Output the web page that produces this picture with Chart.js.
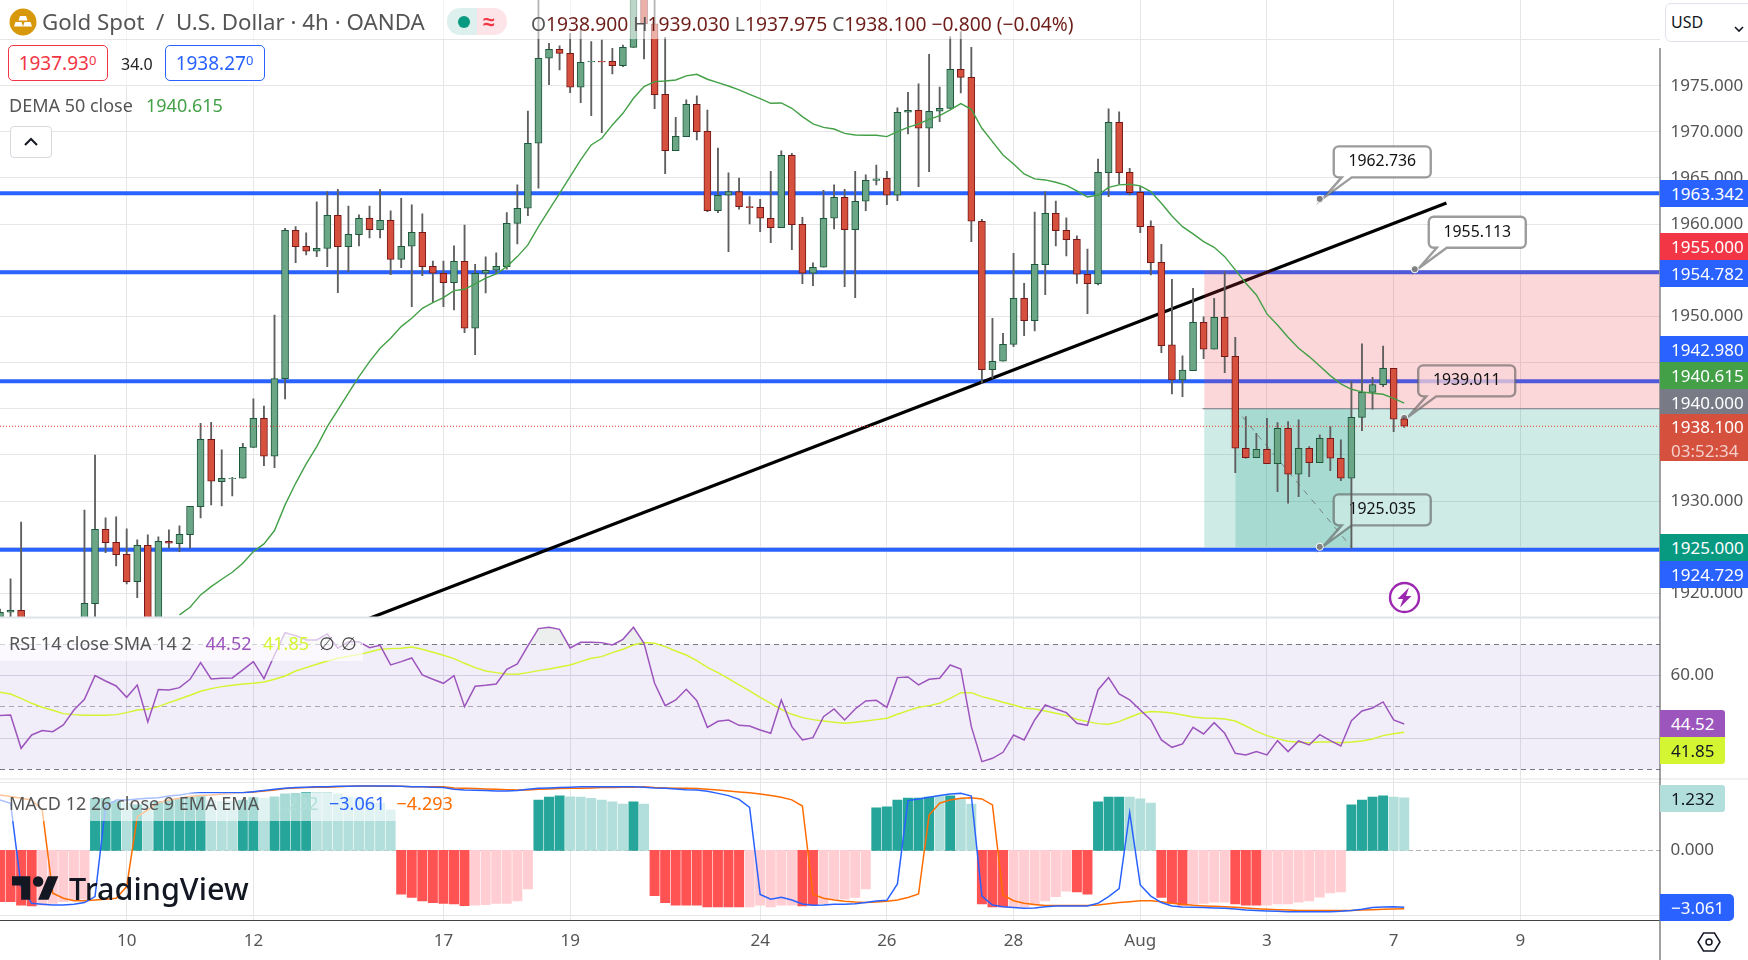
<!DOCTYPE html>
<html>
<head>
<meta charset="utf-8">
<title>Gold Spot / U.S. Dollar</title>
<script src="https://cdn.jsdelivr.net/npm/chart.js@4/dist/chart.umd.min.js"></script>
<style>
  html, body { margin: 0; padding: 0; background: #fff; width: 1748px; height: 960px; overflow: hidden; }
  body { font-family: "Noto Sans", sans-serif; position: relative; }
  canvas { position: absolute; left: 0; top: 0; }
  .abs { position: absolute; white-space: nowrap; }
  .tag { position: absolute; left: 1660px; height: 27px; line-height: 27px; padding-left: 11px; font-size: 17px; box-sizing: border-box; }
  .quote { position: absolute; top: 45px; height: 36px; line-height: 35px; width: 100px; box-sizing: border-box; border-radius: 5px; background: #fff; text-align: center; font-size: 19px; border: 1px solid; }
  .quote sup { font-size: 13px; line-height: 0; vertical-align: 5px; }
  .ohlc b { font-weight: 400; color: #555; }
  .ohlc { color: #6e1e19; }
</style>
</head>
<body>
<canvas id="chart" width="1748" height="960"></canvas>
<div id="overlay"></div>
<script>
// ---- candles, one entry per 4h bar (null = below the visible pane) ----
const opens = [
  1915.5, 1917.95, 1918.16, null, null, null, null, null, 1914, 1918.89,
  1926.94, 1925.53, 1924.23, 1921.27, 1925.21, 1915, 1925.64, 1925.39, 1926.36, 1929.4,
  1936.69, 1932.11, 1932.43, 1932.47, 1935.82, 1938.97, 1934.85, 1943.26, 1959.33, 1957.6,
  1957.06, 1957.38, 1960.96, 1957.57, 1958.87, 1960.64, 1959.41, 1960.42, 1956.19, 1957.6,
  1959.12, 1955.43, 1954.68, 1953.66, 1955.98, 1948.72, 1954.68, 1955.0, 1955.4, 1960.09,
  1961.72, 1968.76, 1977.97, 1978.94, 1978.51, 1974.83, 1977.57, 1977.65, 1977.65, 1977.18,
  1979.16, 1986, 1981.69, 1974.07, 1967.97, 1969.48, 1972.99, 1970.06, 1961.47, 1963.13,
  1963.52, 1961.9, 1961.83, 1960.64, 1959.62, 1967.46, 1959.99, 1954.68, 1955.33, 1960.64,
  1962.91, 1959.41, 1962.48, 1964.75, 1964.97, 1963.13, 1972.12, 1972.34, 1970.39, 1972.23,
  1972.55, 1976.78, 1975.91, 1960.31, 1944.24, 1945.14, 1946.98, 1951.97, 1949.55, 1955.62,
  1961.18, 1959.33, 1958.36, 1954.57, 1953.56, 1965.58, 1971.04, 1965.62, 1963.45, 1959.77,
  1955.87, 1946.91, 1943.12, 1944.13, 1949.37, 1946.44, 1949.91, 1945.68, 1935.72, 1934.71,
  1935.61, 1934.06, 1937.88, 1932.9, 1935.72, 1934.16, 1936.8, 1934.63, 1932.47, 1939.07,
  1941.78, 1942.61, 1944.38, 1938.9
];
const highs = [
  1918.3, 1921.56, 1927.73, null, null, null, null, null, 1929.03, 1934.99,
  1928.17, 1928.28, 1926.98, 1925.79, 1926.33, 1926.11, 1926.87, 1927.3, 1929.43, 1938.42,
  1938.53, 1935.54, 1932.58, 1936.26, 1941.06, 1940.3, 1950.16, 1959.55, 1959.73, 1959.05,
  1962.41, 1963.52, 1963.78, 1961.97, 1961.0, 1961.97, 1963.78, 1961.43, 1962.8, 1962.08,
  1961.11, 1956.01, 1956.01, 1957.64, 1959.91, 1955.65, 1956.45, 1956.88, 1961.25, 1964.25,
  1972.26, 1985, 1979.6, 1979.31, 1980.68, 1981.22, 1979.77, 1979.95, 1979.05, 1979.41,
  1988, 1988, 1984.5, 1980.25, 1971.58, 1973.46, 1973.89, 1972.37, 1968.25, 1965.55,
  1965.0, 1962.98, 1962.69, 1965.73, 1967.93, 1967.68, 1960.74, 1955.8, 1963.67, 1964.25,
  1963.78, 1965.73, 1965.33, 1966.41, 1965.73, 1972.59, 1974.29, 1975.19, 1978.4, 1974.86,
  1980.32, 1980.86, 1979.16, 1960.53, 1949.8, 1948.18, 1956.84, 1953.59, 1961.32, 1963.52,
  1962.51, 1960.67, 1958.72, 1957.31, 1967.06, 1972.48, 1972.16, 1966.05, 1964.07, 1960.35,
  1957.82, 1954.02, 1945.72, 1953.05, 1949.95, 1951.97, 1954.86, 1947.74, 1939.15, 1937.34,
  1938.97, 1938.5, 1938.6, 1938.79, 1935.9, 1937.16, 1938.06, 1936.62, 1942.94, 1947.02,
  1943.41, 1946.8, 1944.38, 1939.03
];
const lows = [
  1913, 1915.8, 1913, null, null, null, null, null, 1912, 1916,
  1924.41, 1922.97, 1921.02, 1919.54, 1914, 1914, 1924.88, 1924.52, 1924.88, 1928.17,
  1929.58, 1929.47, 1930.55, 1932.47, 1935.82, 1933.84, 1933.62, 1941.06, 1955.83, 1956.66,
  1956.48, 1955.4, 1952.58, 1954.86, 1957.64, 1958.51, 1958.51, 1954.53, 1955.29, 1951.07,
  1954.42, 1951.5, 1951.07, 1950.7, 1948.25, 1945.87, 1952.55, 1954.6, 1955.11, 1957.85,
  1960.92, 1963.89, 1975.12, 1976.7, 1974.25, 1973.17, 1971.76, 1969.92, 1976.27, 1977.07,
  1979.16, 1977.9, 1972.52, 1965.47, 1967.97, 1969.48, 1969.12, 1961.36, 1961.25, 1957.02,
  1961.61, 1960.02, 1959.19, 1958.0, 1959.62, 1957.24, 1953.56, 1953.34, 1955.33, 1959.48,
  1953.23, 1952.04, 1961.47, 1964.25, 1962.11, 1962.55, 1969.77, 1964.07, 1965.69, 1971.11,
  1972.55, 1974.21, 1958.11, 1942.76, 1943.3, 1945.14, 1946.73, 1947.92, 1948.43, 1952.36,
  1957.64, 1956.55, 1953.59, 1950.31, 1953.41, 1962.98, 1964.32, 1963.16, 1959.08, 1954.5,
  1946.08, 1941.6, 1941.31, 1944.13, 1945.43, 1946.44, 1943.91, 1933.08, 1934.63, 1934.71,
  1934.06, 1931.02, 1929.76, 1930.48, 1932.65, 1934.16, 1933.3, 1932.21, 1924.88, 1937.63,
  1939.94, 1942.4, 1937.52, 1937.975
];
const closes = [
  1917.95, 1918.16, 1914, null, null, null, null, null, 1918.92, 1926.94,
  1925.5, 1924.2, 1921.27, 1925.21, 1915, 1925.64, 1925.42, 1926.4, 1929.43, 1936.69,
  1932.14, 1932.47, 1932.47, 1935.82, 1938.97, 1934.85, 1943.26, 1959.33, 1957.57, 1957.06,
  1957.38, 1960.96, 1957.57, 1958.9, 1960.64, 1959.41, 1960.42, 1956.19, 1957.6, 1959.12,
  1955.4, 1954.68, 1953.66, 1955.98, 1948.72, 1954.68, 1955.0, 1955.43, 1960.09, 1961.72,
  1968.76, 1977.97, 1978.94, 1978.51, 1974.83, 1977.54, 1977.65, 1977.57, 1977.18, 1979.16,
  1986, 1981.69, 1974.03, 1967.97, 1969.52, 1972.99, 1970.03, 1961.47, 1963.13, 1963.52,
  1961.9, 1961.79, 1960.64, 1959.62, 1967.46, 1959.95, 1954.68, 1955.33, 1960.64, 1962.91,
  1959.41, 1962.48, 1964.75, 1964.9, 1963.13, 1972.12, 1972.34, 1970.39, 1972.23, 1972.55,
  1976.78, 1975.91, 1960.31, 1944.24, 1945.14, 1946.98, 1951.97, 1949.55, 1955.65, 1961.18,
  1959.3, 1958.32, 1954.57, 1953.56, 1965.62, 1971.04, 1965.58, 1963.42, 1959.73, 1955.83,
  1946.84, 1943.12, 1944.2, 1949.37, 1946.44, 1949.91, 1945.65, 1935.72, 1934.71, 1935.61,
  1934.06, 1937.88, 1932.9, 1935.72, 1934.16, 1936.8, 1934.63, 1932.47, 1939.07, 1941.78,
  1942.61, 1944.38, 1938.86, 1938.1
];

// ---- DEMA 50, off the pane for the first 17 bars ----
const demaValues = [
  null, null, null, null, null, null, null, null, null, null,
  null, null, null, null, null, null, null, 1917.66, 1918.49, 1919.83,
  1920.73, 1921.52, 1922.28, 1923.26, 1924.52, 1925.35, 1926.8, 1929.58, 1931.92, 1934.02,
  1935.9, 1938.06, 1939.87, 1941.68, 1943.48, 1945.11, 1946.55, 1947.63, 1948.9, 1949.8,
  1950.88, 1951.5, 1952.04, 1952.8, 1952.94, 1953.52, 1954.14, 1954.6, 1955.4, 1956.48,
  1957.75, 1959.73, 1961.54, 1963.34, 1965.15, 1966.96, 1968.58, 1969.3, 1970.75, 1972.01,
  1973.64, 1974.9, 1975.44, 1975.51, 1975.62, 1976.06, 1976.24, 1975.7, 1975.33, 1974.97,
  1974.54, 1974.07, 1973.6, 1973.09, 1973.13, 1972.55, 1971.65, 1970.86, 1970.49, 1970.31,
  1969.84, 1969.66, 1969.63, 1969.63, 1969.48, 1970.03, 1970.49, 1970.86, 1971.36, 1971.76,
  1972.37, 1973.06, 1972.44, 1970.39, 1968.94, 1967.5, 1966.52, 1965.44, 1964.9, 1964.79,
  1964.54, 1964.21, 1963.6, 1962.95, 1963.16, 1963.99, 1964.25, 1964.32, 1964.14, 1963.52,
  1962.26, 1960.89, 1959.73, 1958.94, 1958.11, 1957.49, 1956.48, 1955.04, 1953.59, 1952.33,
  1950.27, 1949.08, 1947.74, 1946.55, 1945.65, 1944.64, 1943.59, 1942.69, 1942.11, 1941.82,
  1941.68, 1941.57, 1941.13, 1940.615
];

// ---- RSI 14 and its SMA ----
const rsiValues = [
  47.18, 47.39, 36.72, 40.99, 42.38, 42.06, 44.19, 48.99, 52.4, 59.98,
  58.27, 56.67, 53.04, 56.99, 45.15, 55.5, 55.39, 56.14, 58.8, 64.14,
  58.91, 59.12, 59.23, 61.79, 64.46, 59.02, 66.59, 73.74, 72.78, 71.39,
  71.39, 73.31, 68.72, 70.86, 70.86, 68.94, 69.68, 63.39, 64.46, 65.63,
  60.19, 58.8, 57.52, 59.98, 50.06, 56.56, 56.88, 57.31, 62.0, 63.71,
  69.47, 75.02, 75.44, 74.8, 68.83, 70.64, 70.64, 70.54, 69.79, 71.6,
  75.44, 70.32, 57.52, 50.38, 52.19, 55.6, 51.98, 43.44, 45.36, 45.79,
  44.08, 43.87, 42.59, 41.52, 52.19, 43.66, 39.39, 40.14, 46.86, 49.31,
  45.79, 49.31, 51.87, 52.08, 49.84, 59.34, 59.55, 56.99, 58.8, 59.12,
  63.39, 62.11, 43.66, 32.46, 33.52, 35.44, 40.99, 39.39, 45.79, 50.59,
  49.31, 48.14, 44.72, 44.08, 55.39, 59.34, 54.11, 52.19, 48.99, 45.79,
  39.39, 37.04, 38.11, 43.44, 41.31, 44.94, 41.52, 35.12, 34.59, 35.66,
  34.59, 39.18, 35.66, 39.07, 37.79, 41.1, 39.18, 37.47, 45.58, 48.67,
  49.63, 51.55, 45.79, 44.52
];
const rsiSmaValues = [
  54.64, 54.11, 52.72, 51.12, 49.84, 48.88, 47.82, 47.5, 47.28, 47.28,
  47.28, 47.5, 48.14, 48.99, 49.2, 50.06, 51.34, 52.51, 53.68, 54.96,
  55.82, 56.46, 56.88, 57.31, 57.52, 57.95, 58.8, 59.87, 61.47, 62.54,
  63.6, 64.67, 65.52, 66.16, 66.7, 67.55, 68.4, 68.62, 68.72, 69.15,
  68.4, 67.44, 66.48, 65.42, 63.92, 62.54, 61.47, 60.94, 60.51, 60.4,
  60.94, 61.58, 62.11, 62.75, 63.39, 64.46, 65.52, 66.06, 67.34, 68.4,
  69.79, 70.54, 70.32, 69.26, 67.87, 66.59, 64.78, 62.64, 60.94, 59.02,
  56.99, 55.07, 53.04, 51.12, 49.2, 47.6, 46.54, 45.9, 45.47, 45.04,
  44.72, 45.04, 45.47, 45.9, 46.32, 47.6, 48.78, 49.84, 50.38, 51.12,
  52.72, 54.54, 54.54, 53.26, 52.4, 51.44, 50.59, 49.63, 49.31, 48.67,
  47.92, 47.18, 46.0, 45.26, 44.62, 44.4, 45.26, 46.64, 47.92, 48.46,
  48.35, 48.03, 47.39, 46.75, 46.43, 46.32, 46.11, 45.47, 43.87, 42.16,
  40.78, 39.82, 38.96, 38.64, 38.54, 38.75, 38.75, 38.54, 38.75, 39.07,
  39.71, 40.78, 41.41, 41.85
];

// ---- MACD ----
const macdValues = [
  2.71, 2.53, -1.95, -2.85, -2.9, -2.94, -2.94, -2.9, -2.81, -2.49,
  2.35, 2.71, 2.71, 2.76, 2.8, 2.83, 2.92, 2.97, 3.06, 3.1,
  3.1, 3.1, 3.1, 3.1, 3.15, 3.21, 3.28, 3.33, 3.37, 3.39,
  3.42, 3.42, 3.44, 3.44, 3.46, 3.46, 3.46, 3.46, 3.44, 3.42,
  3.41, 3.39, 3.37, 3.28, 3.24, 3.23, 3.21, 3.19, 3.19, 3.21,
  3.28, 3.33, 3.35, 3.37, 3.39, 3.41, 3.41, 3.41, 3.41, 3.42,
  3.42, 3.39, 3.35, 3.33, 3.3, 3.26, 3.24, 3.17, 3.06, 2.94,
  2.74, 2.31, -2.37, -2.63, -2.53, -2.67, -2.89, -2.96, -2.94, -2.9,
  -2.9, -2.87, -2.8, -2.72, -2.69, -1.81, 2.67, 2.76, 2.85, 2.94,
  3.03, 3.06, 2.92, -2.46, -2.94, -3.03, -3.08, -3.12, -3.1, -3.03,
  -2.99, -2.99, -2.99, -2.99, -2.85, -2.49, -2.06, 2.03, -1.86, -2.46,
  -2.81, -2.99, -3.05, -3.06, -3.08, -3.1, -3.12, -3.15, -3.21, -3.24,
  -3.26, -3.28, -3.3, -3.3, -3.3, -3.3, -3.3, -3.28, -3.24, -3.17,
  -3.08, -3.05, -3.03, -3.061
];
const signalValues = [
  2.97, 2.89, 2.8, 2.71, 2.17, -2.31, -2.58, -2.71, -2.71, -2.67,
  -2.63, -2.58, -1.95, 1.81, 2.17, 2.56, 2.71, 2.8, 2.89, 2.94,
  2.97, 3.03, 3.06, 3.1, 3.14, 3.19, 3.24, 3.32, 3.35, 3.37,
  3.39, 3.39, 3.42, 3.44, 3.46, 3.46, 3.44, 3.44, 3.44, 3.42,
  3.42, 3.42, 3.41, 3.35, 3.33, 3.32, 3.3, 3.28, 3.26, 3.24,
  3.24, 3.28, 3.3, 3.32, 3.33, 3.33, 3.35, 3.37, 3.37, 3.39,
  3.39, 3.41, 3.37, 3.35, 3.33, 3.33, 3.32, 3.28, 3.24, 3.19,
  3.14, 3.1, 3.03, 2.94, 2.85, 2.71, 2.38, -2.37, -2.58, -2.67,
  -2.74, -2.78, -2.8, -2.78, -2.74, -2.67, -2.54, -2.35, 1.9, 2.53,
  2.71, 2.8, 2.83, 2.76, 2.44, -2.4, -2.71, -2.85, -2.92, -2.97,
  -2.97, -2.97, -2.97, -2.97, -2.94, -2.87, -2.8, -2.76, -2.71, -2.71,
  -2.76, -2.85, -2.9, -2.96, -2.99, -3.01, -3.03, -3.06, -3.1, -3.14,
  -3.17, -3.19, -3.21, -3.23, -3.24, -3.24, -3.24, -3.24, -3.24, -3.21,
  -3.19, -3.17, -3.15, -3.14
];
const histValues = [
  -1.21, -1.21, -1.29, -1.31, -1.29, -1.25, -1.21, -1.18, -1.15, 1.22,
  1.22, 1.15, 1.11, 1.07, 1.15, 1.15, 1.18, 1.22, 1.26, 1.3,
  1.18, 1.15, 1.15, 1.18, 1.24, 1.22, 1.26, 1.33, 1.34, 1.36,
  1.36, 1.36, 1.33, 1.26, 1.22, 1.18, 1.11, 0.95, -1.03, -1.11,
  -1.19, -1.23, -1.25, -1.26, -1.3, -1.29, -1.28, -1.25, -1.25, -1.19,
  -0.91, 1.18, 1.25, 1.28, 1.26, 1.25, 1.22, 1.18, 1.14, 1.09,
  1.14, 1.09, -1.07, -1.23, -1.29, -1.29, -1.29, -1.33, -1.33, -1.33,
  -1.33, -1.33, -1.29, -1.33, -1.29, -1.29, -1.31, -1.29, -1.26, -1.15,
  -1.15, -1.11, -0.91, 1.0, 1.02, 1.18, 1.23, 1.23, 1.25, 1.28,
  1.28, 1.22, 1.09, -1.26, -1.33, -1.33, -1.33, -1.33, -1.29, -1.19,
  -1.09, -0.96, -0.98, -1.03, 1.14, 1.25, 1.25, 1.25, 1.21, 1.11,
  -1.11, -1.25, -1.29, -1.27, -1.25, -1.22, -1.22, -1.26, -1.29, -1.29,
  -1.29, -1.26, -1.26, -1.22, -1.19, -1.1, -1.0, -0.98, 1.07, 1.18,
  1.25, 1.28, 1.25, 1.232
];
// bars of the histogram shown in the strong colour, the rest are faded
const histStrongBars = [
  0, 1, 2, 3, 9, 10, 11, 13, 15, 16, 17, 18, 19, 23, 24, 26, 27, 28, 29,
  38, 39, 40, 41, 42, 43, 44, 51, 52, 53, 60, 62, 63, 64, 65, 66, 67, 68, 69, 70,
  76, 77, 83, 84, 85, 86, 87, 88, 90, 93, 94, 95, 102, 103, 104, 105, 106,
  110, 111, 112, 117, 118, 119, 128, 129, 130, 131
];

// ---- drawings on the price pane ----
const levelPrices = [1963.342, 1954.782, 1942.98, 1924.729];
const lastPrice = 1938.1;
const trendBars = [30, 137];
const trendPrices = [1915.09, 1962.29];
const positionBars = [114.05, 157.18];
const positionTop = 1955;
const positionEntry = 1940;
const positionBottom = 1925;
const rangeBars = [117, 128];
const projectionBars = [117.66, 128];
const projectionPrices = [1939.15, 1925];
const calloutBars = [125, 134, 133, 125];
const calloutPrices = [1962.736, 1955.113, 1939.011, 1925.035];

// ---- axes ----
const xTickBars = [12, 24, 42, 54, 72, 84, 96, 108, 120, 132, 144];
const xTickLabels = ['10', '12', '17', '19', '24', '26', '28', 'Aug', '3', '7', '9'];
const priceTicks = [1980, 1975, 1970, 1965, 1960, 1955, 1950, 1945, 1940, 1935, 1930, 1925, 1920];
const rsiTicks = [70, 60, 50, 40, 30];
const macdTicks = [3.63, 0, -3.5];

const FONT = '"Noto Sans", sans-serif';
const barIndex = closes.map((_, i) => i);
const lastBar = 157.18;

function series(values) {
    return barIndex.map(i => ({ x: i, y: values[i] }));
}
function twoPoints(xs, ys) {
    return [{ x: xs[0], y: ys[0] }, { x: xs[1], y: ys[1] }];
}
function flatLine(xs, y) {
    return twoPoints(xs, [y, y]);
}

const GREEN_BODY = 'rgb(107,166,135)', GREEN_EDGE = 'rgb(30,88,60)';
const RED_BODY = 'rgb(214,80,62)', RED_EDGE = 'rgb(118,24,24)';
const isUp = i => closes[i] >= opens[i];

const datasets = [];

// level lines, trend line and the long position box sit under the candles
levelPrices.forEach(p => datasets.push({
    type: 'line', label: 'level', yAxisID: 'price', order: 100,
    data: flatLine([0, lastBar], p), borderColor: '#2962ff', borderWidth: 4, pointRadius: 0
}));
datasets.push({
    type: 'line', label: 'trend', yAxisID: 'price', order: 95,
    data: twoPoints(trendBars, trendPrices), borderColor: '#000', borderWidth: 3.2, pointRadius: 0
});
datasets.push({
    type: 'line', label: 'risk', yAxisID: 'price', order: 90,
    data: flatLine(positionBars, positionTop), borderWidth: 0, pointRadius: 0,
    fill: { value: positionEntry }, backgroundColor: 'rgba(242,54,69,0.2)'
});
datasets.push({
    type: 'line', label: 'reward', yAxisID: 'price', order: 89,
    data: flatLine(positionBars, positionBottom), borderWidth: 0, pointRadius: 0,
    fill: { value: positionEntry }, backgroundColor: 'rgba(8,153,129,0.2)'
});
datasets.push({
    type: 'line', label: 'range', yAxisID: 'price', order: 88,
    data: flatLine(rangeBars, positionBottom), borderWidth: 0, pointRadius: 0,
    fill: { value: positionEntry }, backgroundColor: 'rgba(8,153,129,0.2)'
});
datasets.push({
    type: 'line', label: 'entry', yAxisID: 'price', order: 87,
    data: flatLine([113.9, lastBar], positionEntry), borderColor: '#787b86', borderWidth: 1.2, pointRadius: 0
});
datasets.push({
    type: 'line', label: 'projection', yAxisID: 'price', order: 86,
    data: twoPoints(projectionBars, projectionPrices), borderColor: 'rgba(110,110,110,0.8)',
    borderWidth: 1, borderDash: [6, 6], pointRadius: 0
});

// candles: a thin floating bar for the wick, a wider one for the body
datasets.push({
    type: 'bar', label: 'wicks', yAxisID: 'price', order: 60, grouped: false, barThickness: 1.2,
    data: barIndex.map(i => ({ x: i, y: highs[i] === null ? null : [lows[i], highs[i]] })),
    backgroundColor: 'rgb(95,95,95)', borderWidth: 0
});
datasets.push({
    type: 'bar', label: 'bodies', yAxisID: 'price', order: 59, grouped: false, barThickness: 7,
    data: barIndex.map(i => ({ x: i, y: opens[i] === null ? null : [opens[i], closes[i]] })),
    backgroundColor: barIndex.map(i => isUp(i) ? GREEN_BODY : RED_BODY),
    borderColor: barIndex.map(i => isUp(i) ? GREEN_EDGE : RED_EDGE),
    borderWidth: 1, borderSkipped: false
});
datasets.push({
    type: 'line', label: 'last', yAxisID: 'price', order: 50,
    data: flatLine([0, lastBar], lastPrice), borderColor: '#e8392c', borderWidth: 1, borderDash: [1, 2], pointRadius: 0
});
datasets.push({
    type: 'line', label: 'DEMA 50', yAxisID: 'price', order: 40,
    data: series(demaValues), borderColor: '#43a047', borderWidth: 1.4, pointRadius: 0, tension: 0
});

// RSI pane, with a soft shade where the RSI climbs over the 70 level
datasets.push({
    type: 'line', label: 'RSI SMA', yAxisID: 'rsi', order: 31,
    data: series(rsiSmaValues), borderColor: '#d4f532', borderWidth: 1.5, pointRadius: 0
});
datasets.push({
    type: 'line', label: 'RSI', yAxisID: 'rsi', order: 30,
    data: series(rsiValues), borderColor: '#9c55bd', borderWidth: 1.5, pointRadius: 0,
    fill: { target: { value: 70 }, above: 'rgba(110,130,115,0.13)', below: 'rgba(0,0,0,0)' }
});

// MACD pane, the histogram has its own hidden scale
const strong = new Set(histStrongBars);
datasets.push({
    type: 'bar', label: 'Histogram', yAxisID: 'hist', order: 25, grouped: false, barThickness: 9.3,
    data: series(histValues),
    backgroundColor: barIndex.map(i => histValues[i] >= 0
        ? (strong.has(i) ? '#26a69a' : '#b2dfdb')
        : (strong.has(i) ? '#ff5252' : '#ffcdd2'))
});
datasets.push({
    type: 'line', label: 'Signal', yAxisID: 'macd', order: 21,
    data: series(signalValues), borderColor: '#ff6d00', borderWidth: 1.5, pointRadius: 0
});
datasets.push({
    type: 'line', label: 'MACD', yAxisID: 'macd', order: 20,
    data: series(macdValues), borderColor: '#2962ff', borderWidth: 1.5, pointRadius: 0
});

const tickStyle = { color: '#555', font: { family: FONT, size: 17 }, padding: 11, autoSkip: false, maxRotation: 0 };

// labels may not push the plot area in from the canvas edges
function noPadding(s) {
    s.paddingTop = 0;
    s.paddingBottom = 0;
    s.paddingLeft = 0;
    s.paddingRight = 0;
}

function paneAxis(weight, min, max, ticks, label, extra) {
    return Object.assign({
        type: 'linear', position: 'right', stack: 'panes', stackWeight: weight, min, max,
        afterBuildTicks: s => { s.ticks = ticks.map(value => ({ value })); },
        afterFit: s => { s.width = 88.5; noPadding(s); },
        ticks: Object.assign({}, tickStyle, { callback: label }),
        grid: { color: '#e6e6e6', drawTicks: false },
        border: { display: false }
    }, extra);
}

// lavender band of the RSI, between the 70 and 30 levels
const rsiBand = {
    id: 'rsiBand',
    beforeDatasetsDraw(chart) {
        const y = chart.scales.rsi, area = chart.chartArea, c = chart.ctx;
        const top = y.getPixelForValue(70), bottom = y.getPixelForValue(30);
        c.save();
        c.fillStyle = 'rgba(126,87,194,0.1)';
        c.fillRect(area.left, top, area.right - area.left, bottom - top);
        c.restore();
    }
};

// price callouts go in just before the candles, so wicks show over them
const calloutFills = ['#fff', '#fff', 'rgba(250,213,216,0.72)', 'rgba(208,235,228,0.72)'];
const callouts = {
    id: 'callouts',
    beforeDatasetDraw(chart, args) {
        if (chart.data.datasets[args.index].label !== 'wicks') return;
        const c = chart.ctx, xs = chart.scales.x, ys = chart.scales.price;
        calloutPrices.forEach((price, n) => {
            const ax = xs.getPixelForValue(calloutBars[n]), ay = ys.getPixelForValue(price);
            const l = ax + 14, t = ay - 52.5, w = 97, h = 31, r = 5;
            c.save();
            c.beginPath();
            c.moveTo(l + r, t);
            c.lineTo(l + w - r, t);
            c.arcTo(l + w, t, l + w, t + r, r);
            c.lineTo(l + w, t + h - r);
            c.arcTo(l + w, t + h, l + w - r, t + h, r);
            c.lineTo(l + 18, t + h);
            c.lineTo(ax + 4, ay - 1);
            c.lineTo(l + 8, t + h);
            c.lineTo(l + r, t + h);
            c.arcTo(l, t + h, l, t + h - r, r);
            c.lineTo(l, t + r);
            c.arcTo(l, t, l + r, t, r);
            c.closePath();
            c.fillStyle = calloutFills[n];
            c.fill();
            c.lineWidth = 2.4;
            c.strokeStyle = 'rgba(90,90,90,0.6)';
            c.stroke();
            c.beginPath();
            c.arc(ax, ay, 3.6, 0, Math.PI * 2);
            c.fillStyle = '#808080';
            c.fill();
            c.lineWidth = 1;
            c.strokeStyle = '#fff';
            c.stroke();
            c.fillStyle = '#111';
            c.font = '15.8px ' + FONT;
            c.textAlign = 'center';
            c.textBaseline = 'middle';
            c.fillText(price.toFixed(3), l + w / 2, t + h / 2);
            c.restore();
        });
    }
};

// pane separators and the two axis lines
const frame = {
    id: 'frame',
    afterDraw(chart) {
        const c = chart.ctx, area = chart.chartArea;
        c.save();
        c.fillStyle = '#e0e3eb';
        c.fillRect(0, chart.scales.price.bottom - 1, area.right, 2);
        c.fillStyle = '#e6e6e6';
        c.fillRect(0, chart.scales.rsi.bottom - 1, 1748, 1);
        c.fillStyle = '#444';
        c.fillRect(0, area.bottom, area.right, 1);
        c.fillRect(area.right, 48, 1, 912);
        c.restore();
    }
};

new Chart(document.getElementById('chart'), {
    type: 'bar',
    data: { datasets },
    plugins: [rsiBand, callouts, frame],
    options: {
        responsive: false,
        animation: false,
        devicePixelRatio: 1,
        events: [],
        layout: { padding: 0 },
        plugins: { legend: { display: false }, tooltip: { enabled: false } },
        scales: {
            x: {
                type: 'linear', min: 0, max: lastBar, offset: false,
                afterBuildTicks: s => { s.ticks = xTickBars.map(value => ({ value })); },
                afterFit: s => { s.height = 40; noPadding(s); },
                ticks: Object.assign({}, tickStyle, {
                    padding: 11,
                    callback: v => xTickLabels[xTickBars.indexOf(v)]
                }),
                grid: { color: '#e6e6e6', drawTicks: false, offset: false },
                border: { display: false }
            },
            price: paneAxis(617.5, 1917.38, 1984.285, priceTicks,
                v => (v === 1980 ? '' : v.toFixed(3))),
            rsi: paneAxis(162, 26.74, 78.58, rsiTicks,
                v => (v === 60 || v === 40 ? v.toFixed(2) : ''), {
                    grid: {
                        drawTicks: false,
                        color: ctx => {
                            const v = ctx.tick.value;
                            if (v === 70 || v === 30) return '#787b86';
                            return v === 50 ? '#b0aeb8' : '#dedce6';
                        }
                    },
                    border: {
                        display: false,
                        dash: ctx => (ctx.tick.value === 60 || ctx.tick.value === 40 ? [] : [5, 4])
                    }
                }),
            macd: paneAxis(140.5, -3.747, 3.806, macdTicks,
                v => (v === 0 ? '0.000' : ''), {
                    grid: {
                        drawTicks: false,
                        color: ctx => (ctx.tick.value === 0 ? '#b4b4b4' : '#e6e6e6')
                    },
                    border: {
                        display: false,
                        dash: ctx => (ctx.tick.value === 0 ? [5, 3] : [])
                    }
                }),
            hist: {
                type: 'linear', display: false, position: 'right',
                min: -1.64, max: 20.007
            }
        }
    }
});

// ---- header, legends and axis tags ----
const overlay = document.getElementById('overlay');
function addHtml(style, html, cls) {
    const el = document.createElement('div');
    el.className = cls || 'abs';
    el.style.cssText = style;
    el.innerHTML = html;
    overlay.appendChild(el);
    return el;
}

// translucent strips behind the legends
addHtml('left:0;top:0;width:1075px;height:39px;background:rgba(255,255,255,.55)', '');
addHtml('left:0;top:40px;width:272px;height:45px;background:rgba(255,255,255,.6)', '');
addHtml('left:0;top:628px;width:363px;height:33px;background:rgba(255,255,255,.65)', '');
addHtml('left:0;top:793px;width:396px;height:28px;background:rgba(255,255,255,.6)', '');

addHtml('left:9px;top:8px;width:28px;height:28px',
    '<svg width="28" height="28" viewBox="0 0 28 28"><circle cx="14" cy="14" r="13.5" fill="#d8980c"/>' +
    '<path d="M11 8h6l1.5 4.5h-9zM6.5 14h6l1.5 4.5H5zM15.5 14h6l1.5 4.5h-9z" fill="#fff"/></svg>');
addHtml('left:42px;top:5px;font-size:22.3px;line-height:33px;color:#555', 'Gold Spot&nbsp; / &nbsp;U.S. Dollar · 4h · OANDA');
addHtml('left:447px;top:8px;width:30px;height:27px;background:#def0ee;border-radius:13px 0 0 13px', '');
addHtml('left:477px;top:8px;width:30px;height:27px;background:#fde4e8;border-radius:0 13px 13px 0', '');
addHtml('left:458px;top:15.5px;width:12px;height:12px;border-radius:6px;background:#089981', '');
addHtml('left:483px;top:6px;font-size:21px;line-height:30px;font-weight:700;color:#f23645', '≈');
addHtml('left:531px;top:8px;font-size:19.25px;line-height:32px', '<b>O</b>1938.900 <b>H</b>1939.030 <b>L</b>1937.975 <b>C</b>1938.100 −0.800 (−0.04%)', 'abs ohlc');

addHtml('left:7.5px;color:#f23645;border-color:#f23645', '1937.93<sup>0</sup>', 'quote');
addHtml('left:121px;top:53px;font-size:16px;line-height:22px;color:#222', '34.0');
addHtml('left:164.5px;color:#2962ff;border-color:#2962ff', '1938.27<sup>0</sup>', 'quote');
addHtml('left:9px;top:92px;font-size:18px;line-height:26px;color:#555', 'DEMA 50 close');
addHtml('left:146px;top:92px;font-size:18px;line-height:26px;color:#43a047', '1940.615');
addHtml('left:9.5px;top:126px;width:42px;height:32px;box-sizing:border-box;background:#fff;border:1px solid #d6d8de;border-radius:4px',
    '<svg width="40" height="30" viewBox="0 0 40 30"><path d="M14 18l6-6 6 6" fill="none" stroke="#131722" stroke-width="2"/></svg>');

addHtml('left:9px;top:630px;font-size:18px;line-height:26px;color:#555', 'RSI 14 close SMA 14 2');
addHtml('left:205.5px;top:630px;font-size:18px;line-height:26px;color:#9c55bd', '44.52');
addHtml('left:263px;top:630px;font-size:18px;line-height:26px;color:#d4f532', '41.85');
addHtml('left:319px;top:630px;font-size:18px;line-height:26px;color:#444', '∅');
addHtml('left:341px;top:630px;font-size:18px;line-height:26px;color:#444', '∅');
addHtml('left:9px;top:790px;font-size:18px;line-height:26px;color:#555', 'MACD 12 26 close 9 EMA EMA');
addHtml('left:272.5px;top:790px;font-size:18px;line-height:26px;color:#b2dfdb', '1.232');
addHtml('left:329px;top:790px;font-size:18px;line-height:26px;color:#2962ff', '−3.061');
addHtml('left:396.5px;top:790px;font-size:18px;line-height:26px;color:#ff6d00', '−4.293');

addHtml('left:11.5px;top:876px;width:48px;height:24px',
    '<svg width="47" height="24" viewBox="0 4 36 18"><path d="M14 22H7V11H0V4h14v18zM28 22h-8l7.5-18h8L28 22z" fill="#131722"/><circle cx="20" cy="8" r="4" fill="#131722"/></svg>');
addHtml('left:69px;top:867px;font-size:30.6px;line-height:42px;font-weight:500;color:#131722', 'TradingView');

addHtml('left:1388px;top:581px;width:33px;height:33px',
    '<svg width="33" height="33" viewBox="0 0 33 33"><circle cx="16.5" cy="16.5" r="14.5" fill="#fff" stroke="#9c27b0" stroke-width="2.4"/>' +
    '<path d="M21 6.5l-11.5 11.5h5.5l-3 8.5L23.5 15H18z" fill="#9c27b0"/></svg>');

// USD box and the settings hexagon
addHtml('left:1665px;top:3px;width:100px;height:39px;box-sizing:border-box;border:1px solid #e0e3eb;border-radius:6px;background:#fff', '');
addHtml('left:1671px;top:9px;font-size:16px;line-height:27px;color:#131722', 'USD');
addHtml('left:1733px;top:17px;width:12px;height:10px',
    '<svg width="12" height="10" viewBox="0 0 12 10"><path d="M2 3l4 4 4-4" fill="none" stroke="#131722" stroke-width="1.6"/></svg>');
addHtml('left:1696px;top:929px;width:26px;height:26px',
    '<svg width="26" height="26" viewBox="0 0 26 26"><path d="M7.5 4h11L24 13l-5.5 9h-11L2 13z" fill="none" stroke="#131722" stroke-width="1.5"/><circle cx="13" cy="13" r="3" fill="none" stroke="#131722" stroke-width="1.5"/></svg>');

// the 20.000 label of the RSI scale is mostly hidden behind the MACD tag
addHtml('left:1671px;top:778px;font-size:17px;line-height:26px;color:#555', '20.000');

const tagText = ['1963.342', '1955.000', '1954.782', '1942.980', '1940.615', '1940.000', '1925.000', '1924.729'];
const tagTops = [180, 233, 259.7, 336, 362.3, 389, 534, 560.7];
const tagColors = ['#2962ff', '#f23645', '#2962ff', '#2962ff', '#43a047', '#787b86', '#089981', '#2962ff'];
tagText.forEach((t, i) => addHtml(`top:${tagTops[i]}px;width:88px;background:${tagColors[i]};color:#fff`, t, 'tag'));

addHtml('top:414px;width:88px;height:47px;background:#d6503e;color:#fff;line-height:24px;padding-top:1px',
    '1938.100<br><span style="color:#f3cfc9">03:52:34</span>', 'tag');
addHtml('top:710px;width:64.5px;background:#9c55bd;color:#fff;border-radius:0 3px 0 0', '44.52', 'tag');
addHtml('top:736.5px;width:64.5px;background:#d4f532;color:#131722;border-radius:0 0 3px 0', '41.85', 'tag');
addHtml('top:785px;width:64.5px;background:#b2dfdb;color:#131722;border-radius:0 3px 3px 0', '1.232', 'tag');
addHtml('top:893.5px;width:74px;background:#2962ff;color:#fff;border-radius:0 5px 5px 0', '−3.061', 'tag');
</script>
</body>
</html>
